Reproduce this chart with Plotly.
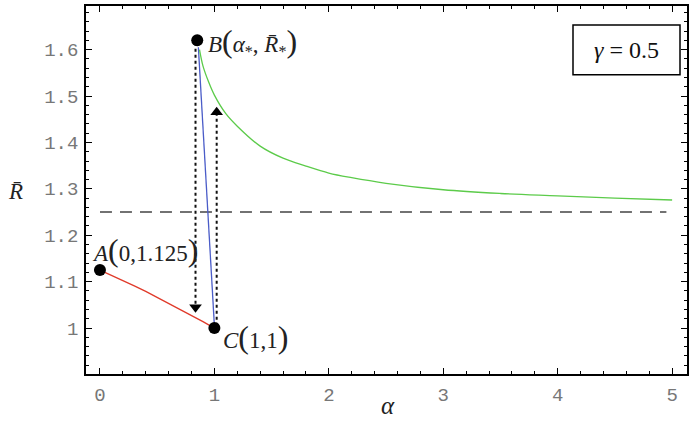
import plotly.graph_objects as go

# ---- data ----
red_x = [0.0, 0.1, 0.2, 0.3, 0.4, 0.5, 0.6, 0.7, 0.8, 0.9, 1.0]
red_y = [1.125, 1.114, 1.102, 1.091, 1.079, 1.066, 1.054, 1.041, 1.028, 1.014, 1.0]

blue_x = [0.86, 1.0]
blue_y = [1.605, 1.005]

green_x = [0.87, 0.9, 0.95, 1.0, 1.1, 1.2, 1.4, 1.6, 1.8, 2.0, 2.2, 2.5, 3.0, 3.5, 4.0, 4.5, 5.0]
green_y = [1.60, 1.565, 1.53, 1.502, 1.462, 1.435, 1.392, 1.366, 1.349, 1.334, 1.324, 1.312, 1.298, 1.290, 1.285, 1.280, 1.276]

dash_x = [0.0, 4.95]
dash_y = [1.25, 1.25]

pts_x = [0.0, 0.85, 1.0]
pts_y = [1.125, 1.62, 1.0]

down_x = [0.835, 0.835]
down_y = [1.615, 1.045]
up_x = [1.02, 1.02]
up_y = [1.005, 1.465]

x_ticks = [0, 1, 2, 3, 4, 5]
y_ticks = [1.0, 1.1, 1.2, 1.3, 1.4, 1.5, 1.6]
y_ticktext = ["1", "1.1", "1.2", "1.3", "1.4", "1.5", "1.6"]

fig = go.Figure()
fig.add_trace(go.Scatter(x=dash_x, y=dash_y, mode="lines",
                         line=dict(color="#444", width=1.5, dash="12px,8px")))
fig.add_trace(go.Scatter(x=down_x, y=down_y, mode="lines",
                         line=dict(color="#111", width=2, dash="3px,3px")))
fig.add_trace(go.Scatter(x=up_x, y=up_y, mode="lines",
                         line=dict(color="#111", width=2, dash="3px,3px")))
fig.add_trace(go.Scatter(x=red_x, y=red_y, mode="lines",
                         line=dict(color="#e03a2a", width=1.3)))
fig.add_trace(go.Scatter(x=blue_x, y=blue_y, mode="lines",
                         line=dict(color="#4a5cc8", width=1.3)))
fig.add_trace(go.Scatter(x=green_x, y=green_y, mode="lines", line_shape="spline",
                         line=dict(color="#5ccb4a", width=1.3)))
fig.add_trace(go.Scatter(x=[down_x[1]], y=[down_y[1]], mode="markers",
                         marker=dict(symbol="triangle-down", size=11, color="black")))
fig.add_trace(go.Scatter(x=[up_x[1]], y=[up_y[1]], mode="markers",
                         marker=dict(symbol="triangle-up", size=11, color="black")))
fig.add_trace(go.Scatter(x=pts_x, y=pts_y, mode="markers",
                         marker=dict(size=12, color="black")))

serif = "Liberation Serif"
P = '<span style="font-size:32px">%s</span>'

annos = [
    dict(x=0.925, y=1.617, xref="x", yref="y", xanchor="left", yanchor="middle",
         text="<i>B</i>" + P % "(" + "<i>α</i><sub>*</sub>, <i>R̄</i><sub>*</sub>" + P % ")"),
    dict(x=-0.085, y=1.168, xref="x", yref="y", xanchor="left", yanchor="middle",
         text="<i>A</i>" + P % "(" + "0,1.125" + P % ")"),
    dict(x=1.06, y=0.98, xref="x", yref="y", xanchor="left", yanchor="middle",
         text="<i>C</i>" + P % "(" + "1,1" + P % ")"),
]
for a in annos:
    a.update(showarrow=False, font=dict(family=serif, size=23, color="#222"))
    fig.add_annotation(**a)

# gamma box: frame as a shape, text as a plain annotation
fig.add_shape(type="rect", xref="paper", yref="paper",
              x0=(573 - 86) / 601, x1=(680 - 86) / 601,
              y0=(374 - 73) / 370, y1=(374 - 23) / 370,
              line=dict(color="black", width=1.5), fillcolor="white", layer="above")
fig.add_annotation(x=0.8995, y=0.881, xref="paper", yref="paper", showarrow=False,
                   xanchor="center", yanchor="middle",
                   text="<i>γ</i> = 0.5", font=dict(family=serif, size=24, color="#111"))
fig.add_annotation(x=-0.118, y=0.497, xref="paper", yref="paper", showarrow=False,
                   xanchor="center", yanchor="middle",
                   text="<i>R̄</i>", font=dict(family=serif, size=23, color="#222"))
fig.add_annotation(x=0.5025, y=-0.085, xref="paper", yref="paper", showarrow=False,
                   xanchor="center", yanchor="middle",
                   text="<i>α</i>", font=dict(family=serif, size=25, color="#222"))

tickfont = dict(family="Liberation Mono, Courier New, monospace", size=19, color="#777")
fig.update_xaxes(range=[-0.122, 5.13], tickvals=x_ticks, ticks="inside", ticklen=6,
                 tickcolor="black", tickwidth=1, mirror="allticks", showline=True,
                 linecolor="black", linewidth=1.5, showgrid=False, zeroline=False,
                 tickfont=tickfont, ticklabelstandoff=2,
                 minor=dict(dtick=0.2, tick0=0, ticks="inside", ticklen=3, tickcolor="black", showgrid=False))
fig.update_yaxes(range=[0.901, 1.694], tickvals=y_ticks, ticktext=y_ticktext, ticks="inside",
                 ticklen=6, tickcolor="black", tickwidth=1, mirror="allticks", showline=True,
                 linecolor="black", linewidth=1.5, showgrid=False, zeroline=False,
                 tickfont=tickfont, ticklabelstandoff=2,
                 minor=dict(dtick=0.02, tick0=0.9, ticks="inside", ticklen=3, tickcolor="black", showgrid=False))
fig.update_layout(width=698, height=424, margin=dict(l=86, r=11, t=4, b=50),
                  plot_bgcolor="white", paper_bgcolor="white", showlegend=False)
fig.write_html("out.html")
